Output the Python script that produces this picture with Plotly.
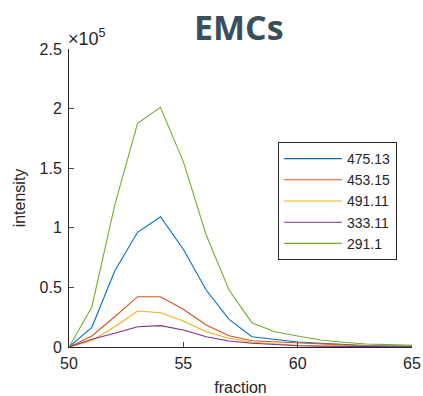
import plotly.graph_objects as go

fractions = list(range(50, 66))

# intensity values in units of 1e5
s475_13 = [0, 0.165, 0.638, 0.962, 1.093, 0.82, 0.478, 0.232, 0.086, 0.065, 0.042, 0.031, 0.02, 0.012, 0.008, 0.005]
s453_15 = [0, 0.092, 0.254, 0.422, 0.422, 0.316, 0.185, 0.095, 0.053, 0.044, 0.031, 0.02, 0.012, 0.008, 0.006, 0.004]
s491_11 = [0, 0.053, 0.17, 0.302, 0.288, 0.218, 0.128, 0.073, 0.04, 0.025, 0.015, 0.01, 0.006, 0.004, 0.003, 0.002]
s333_11 = [0, 0.065, 0.115, 0.17, 0.179, 0.143, 0.086, 0.05, 0.031, 0.018, 0.01, 0.006, 0.004, 0.003, 0.002, 0.001]
s291_1 = [0, 0.336, 1.19, 1.876, 2.01, 1.555, 0.94, 0.478, 0.204, 0.128, 0.092, 0.059, 0.04, 0.025, 0.02, 0.014]

series_names = ["475.13", "453.15", "491.11", "333.11", "291.1"]
series_values = [s475_13, s453_15, s491_11, s333_11, s291_1]
colors = ["#0072BD", "#D95319", "#EDB120", "#7E2F8E", "#77AC30"]

y_ticks = [0, 0.5, 1, 1.5, 2, 2.5]
y_ticklabels = ["0", "0.5", "1", "1.5", "2", "2.5"]
x_ticks = [50, 55, 60, 65]

fig = go.Figure()
for name, vals, c in zip(series_names, series_values, colors):
    fig.add_trace(go.Scatter(x=fractions, y=vals, mode="lines", name=name,
                             line=dict(color=c, width=1.1)))

axis_font = dict(family="Liberation Sans, Arial, sans-serif", size=16, color="#262626")

fig.update_layout(
    width=423, height=396,
    margin=dict(l=69, r=11, t=49, b=49, autoexpand=False),
    paper_bgcolor="white", plot_bgcolor="white",
    title=dict(text="<b>EMCs</b>", xref="paper", x=0.495, xanchor="center",
               yref="container", y=0.929, yanchor="middle",
               font=dict(family="Open Sans, sans-serif", size=34, color="#3A4F5C")),
    font=axis_font,
    showlegend=True,
    legend=dict(x=0.609, y=0.688, xanchor="left", yanchor="top",
                bgcolor="white", bordercolor="#262626", borderwidth=1,
                font=dict(family="Liberation Sans, Arial, sans-serif", size=14, color="#262626"),
                tracegroupgap=0, itemwidth=58),
)
fig.update_xaxes(range=[50, 65], tickvals=x_ticks, ticks="inside", ticklen=5, automargin=False,
                 ticklabelstandoff=2,
                 showline=True, linecolor="#262626", linewidth=1, showgrid=False, zeroline=False,
                 tickfont=axis_font, title=dict(text="fraction", font=axis_font, standoff=13))
fig.update_yaxes(range=[0, 2.5], tickvals=y_ticks, ticktext=y_ticklabels, ticks="inside", ticklen=5,
                 automargin=False, ticklabelstandoff=3,
                 showline=True, linecolor="#262626", linewidth=1, showgrid=False, zeroline=False,
                 tickfont=axis_font, title=dict(text="intensity", font=axis_font, standoff=9))
fig.add_annotation(text="×10<sup>5</sup>", xref="paper", yref="paper", x=0, y=1,
                   xanchor="left", yanchor="bottom", showarrow=False, xshift=-3, yshift=-2,
                   font=dict(family="Liberation Sans, Arial, sans-serif", size=18, color="#262626"))

fig.write_html("out.html", config={"displayModeBar": False},
               post_script="document.body.style.margin='0';")
